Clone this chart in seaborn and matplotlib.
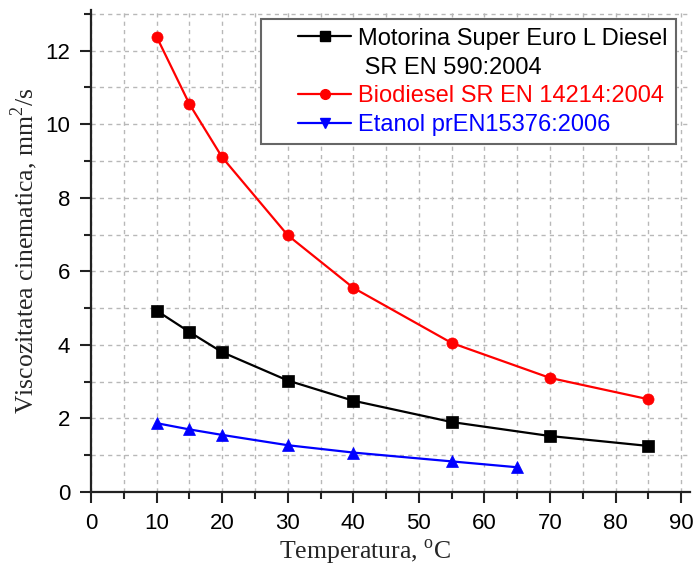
import matplotlib
matplotlib.use("Agg")
import matplotlib.pyplot as plt
from matplotlib.lines import Line2D
from matplotlib.legend_handler import HandlerLine2D
from matplotlib.ticker import MultipleLocator
import seaborn as sns
import pandas as pd

# Data
temp_diesel = [10, 15, 20, 30, 40, 55, 70, 85]
visc_diesel = [4.93, 4.35, 3.80, 3.03, 2.48, 1.90, 1.52, 1.25]
temp_bio = [10, 15, 20, 30, 40, 55, 70, 85]
visc_bio = [12.38, 10.55, 9.10, 6.98, 5.55, 4.05, 3.10, 2.52]
temp_etanol = [10, 15, 20, 30, 40, 55, 65]
visc_etanol = [1.87, 1.70, 1.55, 1.27, 1.07, 0.83, 0.67]

name_diesel = "Motorina Super Euro L Diesel"
name_diesel2 = " SR EN 590:2004"
name_bio = "Biodiesel SR EN 14214:2004"
name_etanol = "Etanol prEN15376:2006"

df = pd.concat([
    pd.DataFrame({"T": temp_diesel, "V": visc_diesel, "s": name_diesel}),
    pd.DataFrame({"T": temp_bio, "V": visc_bio, "s": name_bio}),
    pd.DataFrame({"T": temp_etanol, "V": visc_etanol, "s": name_etanol}),
], ignore_index=True)

sns.set_style("ticks")
plt.rcParams["font.family"] = ["Liberation Sans", "DejaVu Sans"]
plt.rcParams["mathtext.fontset"] = "custom"
plt.rcParams["mathtext.rm"] = "Liberation Serif"

colors = {name_diesel: "black", name_bio: "#ff0000", name_etanol: "#0000ff"}
markers = {name_diesel: "s", name_bio: "o", name_etanol: "^"}

fig = plt.figure(figsize=(6.97, 5.70), dpi=100)
ax = fig.add_axes([0.1306, 0.137, 0.859, 0.845])

sns.lineplot(data=df, x="T", y="V", hue="s", style="s", palette=colors,
             markers=markers, dashes=False, markersize=8, linewidth=1.6,
             ax=ax, legend=False)
for ln in ax.get_lines():
    ln.set_markeredgecolor(ln.get_color())
    ln.set_markeredgewidth(0.5)

ax.set_xlim(0, 91.3)
ax.set_ylim(0, 13.1)
ax.xaxis.set_major_locator(MultipleLocator(10))
ax.xaxis.set_minor_locator(MultipleLocator(5))
ax.yaxis.set_major_locator(MultipleLocator(2))
ax.yaxis.set_minor_locator(MultipleLocator(1))
ax.grid(True, which="both", color="#b8b8b8", linestyle=(0, (3, 3)), linewidth=1)
ax.set_axisbelow(True)
for sp in ["top", "right"]:
    ax.spines[sp].set_visible(False)
for sp in ["left", "bottom"]:
    ax.spines[sp].set_linewidth(1.6)
    ax.spines[sp].set_color("#222222")
ax.tick_params(which="major", direction="out", length=8, width=1.5,
               labelsize=16, colors="#222222", labelcolor="black", pad=7)
ax.tick_params(which="minor", direction="out", length=5, width=1.5, colors="#222222")

ax.set_xlabel(r"Temperatura, $^\mathrm{o}$C", family="Liberation Serif",
              fontsize=18.5, labelpad=3, x=0.457)
ax.set_ylabel(r"Viscozitatea cinematica, mm$^\mathrm{2}$/s", family="Liberation Serif",
              fontsize=18.5, labelpad=4)

handles = [
    Line2D([], [], color="black", marker="s", markersize=6.5, linewidth=1.6),
    Line2D([], [], color="none", marker=None, linewidth=0),
    Line2D([], [], color="#ff0000", marker="o", markersize=7, linewidth=1.6),
    Line2D([], [], color="#0000ff", marker="v", markersize=7, linewidth=1.6),
]
labels = [name_diesel, name_diesel2, name_bio, name_etanol]
hmap = {h: HandlerLine2D(xpad=1.2) for h in handles}
leg = ax.legend(handles, labels, loc="upper right", bbox_to_anchor=(0.977, 0.981),
                borderaxespad=0, fontsize=17, frameon=True, fancybox=False,
                framealpha=1, edgecolor="#666666", handlelength=3.45,
                handletextpad=0.3, labelspacing=0.29, borderpad=0.35,
                handler_map=hmap)
leg.get_frame().set_linewidth(1.5)
for txt, c in zip(leg.get_texts(), ["black", "black", "#ff0000", "#0000ff"]):
    txt.set_color(c)

fig.savefig("out.png", dpi=100)
